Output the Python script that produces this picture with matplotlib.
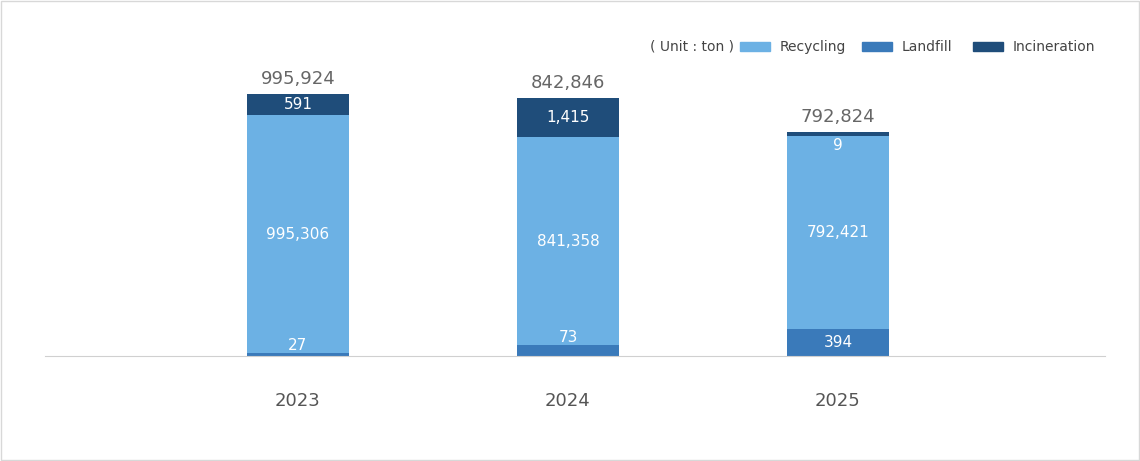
import matplotlib
matplotlib.use("Agg")
import matplotlib.pyplot as plt
from matplotlib.patches import Rectangle

years = ["2023", "2024", "2025"]
recycling = [995306, 841358, 792421]
landfill = [27, 73, 394]
incineration = [591, 1415, 9]
totals = [995924, 842846, 792824]
# stylized (non-proportional) segment heights as shown in the reference
h_landfill = [3, 11, 27]
h_recycling = [238, 208, 193]
h_incineration = [21, 39, 4]

c_rec, c_land, c_inc = "#6cb1e4", "#3a7aba", "#1f4d7a"

fig = plt.figure(figsize=(11.4, 4.61), dpi=100)
fig.patches.append(Rectangle((0.001, 0.002), 0.998, 0.996, transform=fig.transFigure,
                             fill=False, edgecolor="#d8d8d8", linewidth=1))
ax = fig.add_axes([45/1140, 1-356/461, 1060/1140, 300/461])
x = list(range(len(years)))
w = 0.378
ax.bar(x, h_landfill, w, color=c_land)
ax.bar(x, h_recycling, w, bottom=h_landfill, color=c_rec)
b2 = [a + b for a, b in zip(h_landfill, h_recycling)]
ax.bar(x, h_incineration, w, bottom=b2, color=c_inc)

for i in x:
    ax.text(i, h_landfill[i] / 2 if h_landfill[i] > 15 else h_landfill[i] + 8, f"{landfill[i]:,}",
            ha="center", va="center", color="white", fontsize=11)
    ax.text(i, h_landfill[i] + h_recycling[i] / 2, f"{recycling[i]:,}",
            ha="center", va="center", color="white", fontsize=11)
    yi = b2[i] + h_incineration[i] / 2 if h_incineration[i] > 15 else b2[i] - 9
    ax.text(i, yi, f"{incineration[i]:,}", ha="center", va="center", color="white", fontsize=11)
    ax.text(i, b2[i] + h_incineration[i] + 6, f"{totals[i]:,}", ha="center", va="bottom",
            color="#666666", fontsize=13)

ax.set_xlim(-0.937, 2.989)
ax.set_ylim(0, 300)
ax.set_xticks(x)
ax.set_xticklabels(years, fontsize=13, color="#555555")
ax.tick_params(axis="x", length=0, pad=26)
ax.set_yticks([])
for s in ["top", "left", "right"]:
    ax.spines[s].set_visible(False)
ax.spines["bottom"].set_color("#d0d0d0")

fig.text(650/1140, 1-47/461, "( Unit : ton )", fontsize=10, color="#444444", va="center")
for px, lab, c in [(740, "Recycling", c_rec), (862, "Landfill", c_land), (973, "Incineration", c_inc)]:
    fig.patches.append(Rectangle((px/1140, 1-51/461), 30/1140, 9/461, transform=fig.transFigure,
                                 color=c))
    fig.text((px + 40)/1140, 1-47/461, lab, fontsize=10, color="#444444", va="center")

fig.savefig("out.png", dpi=100)
